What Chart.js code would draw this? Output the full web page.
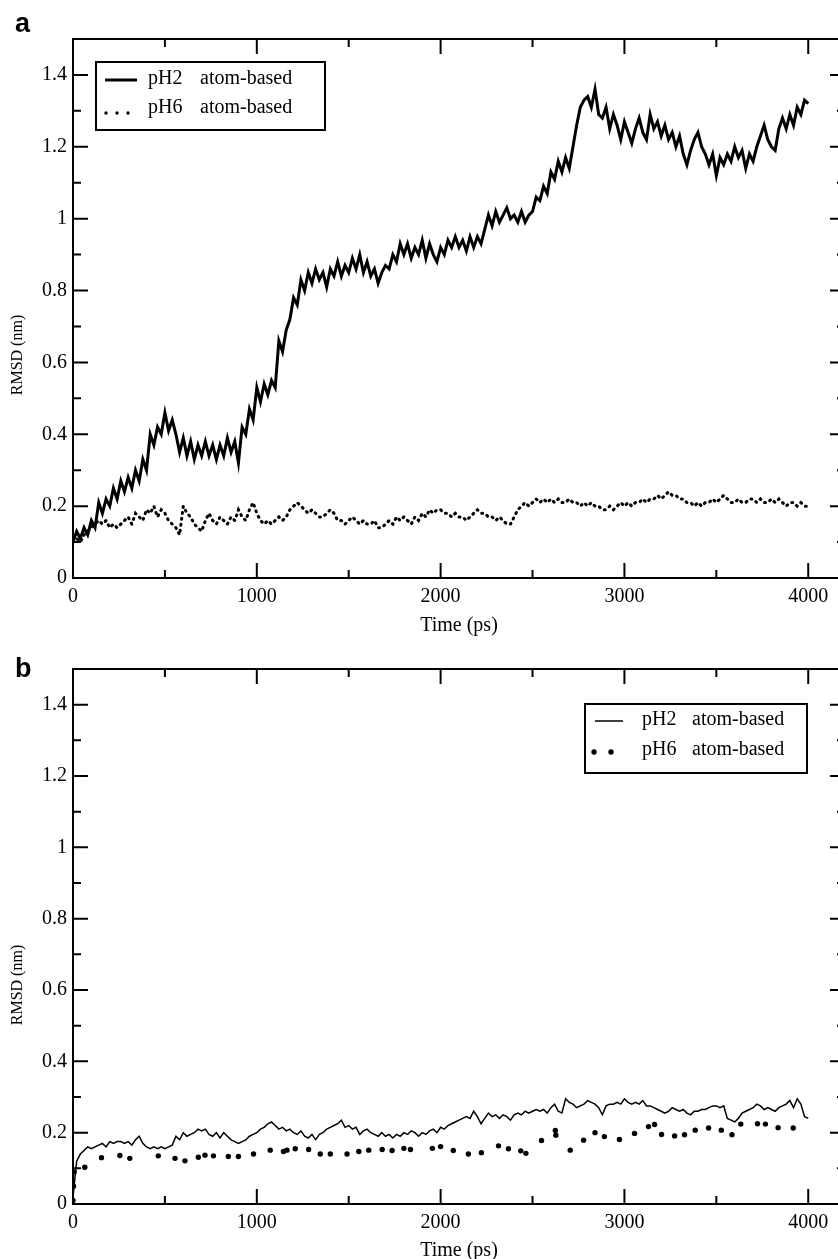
<!DOCTYPE html>
<html>
<head>
<meta charset="utf-8">
<title>RMSD vs time</title>
<script src="https://cdn.jsdelivr.net/npm/chart.js@4.4.0/dist/chart.umd.min.js"></script>
<style>
  html, body { margin: 0; padding: 0; background: #fff; width: 838px; height: 1259px; overflow: hidden; }
  #wrap { position: relative; width: 838px; height: 1259px; overflow: hidden; }
  canvas { position: absolute; left: 0; }
  #chartA { top: 0; width: 850px; height: 640px; }
  #chartB { top: 640px; width: 850px; height: 625px; }
</style>
</head>
<body>
<div id="wrap">
  <canvas id="chartA" width="850" height="640"></canvas>
  <canvas id="chartB" width="850" height="625"></canvas>
</div>
<script>
// series names
const seriesNames = ['pH2', 'pH6'];
const seriesNote = 'atom-based';

// sampling times (ps)
const timePs = [
  0, 20, 40, 60, 80, 100, 120, 140, 160, 180, 200, 220, 240, 260, 280, 300, 320, 340, 360, 380,
  400, 420, 440, 460, 480, 500, 520, 540, 560, 580, 600, 620, 640, 660, 680, 700, 720, 740, 760, 780,
  800, 820, 840, 860, 880, 900, 920, 940, 960, 980, 1000, 1020, 1040, 1060, 1080, 1100, 1120, 1140, 1160, 1180,
  1200, 1220, 1240, 1260, 1280, 1300, 1320, 1340, 1360, 1380, 1400, 1420, 1440, 1460, 1480, 1500, 1520, 1540, 1560, 1580,
  1600, 1620, 1640, 1660, 1680, 1700, 1720, 1740, 1760, 1780, 1800, 1820, 1840, 1860, 1880, 1900, 1920, 1940, 1960, 1980,
  2000, 2020, 2040, 2060, 2080, 2100, 2120, 2140, 2160, 2180, 2200, 2220, 2240, 2260, 2280, 2300, 2320, 2340, 2360, 2380,
  2400, 2420, 2440, 2460, 2480, 2500, 2520, 2540, 2560, 2580, 2600, 2620, 2640, 2660, 2680, 2700, 2720, 2740, 2760, 2780,
  2800, 2820, 2840, 2860, 2880, 2900, 2920, 2940, 2960, 2980, 3000, 3020, 3040, 3060, 3080, 3100, 3120, 3140, 3160, 3180,
  3200, 3220, 3240, 3260, 3280, 3300, 3320, 3340, 3360, 3380, 3400, 3420, 3440, 3460, 3480, 3500, 3520, 3540, 3560, 3580,
  3600, 3620, 3640, 3660, 3680, 3700, 3720, 3740, 3760, 3780, 3800, 3820, 3840, 3860, 3880, 3900, 3920, 3940, 3960, 3980,
  4000
];

// panel a: RMSD (nm)
const pH2A = [
  0.10, 0.13, 0.11, 0.14, 0.12, 0.16, 0.14, 0.21, 0.18, 0.22, 0.20, 0.25, 0.22, 0.27, 0.24, 0.28, 0.25, 0.30, 0.27, 0.33,
  0.30, 0.40, 0.37, 0.42, 0.40, 0.46, 0.41, 0.44, 0.40, 0.35, 0.39, 0.34, 0.38, 0.33, 0.37, 0.34, 0.38, 0.34, 0.37, 0.33,
  0.37, 0.34, 0.39, 0.35, 0.38, 0.32, 0.42, 0.40, 0.47, 0.44, 0.53, 0.49, 0.54, 0.51, 0.55, 0.53, 0.66, 0.63, 0.69, 0.72,
  0.78, 0.76, 0.83, 0.80, 0.85, 0.82, 0.86, 0.83, 0.85, 0.81, 0.86, 0.84, 0.88, 0.84, 0.87, 0.85, 0.89, 0.86, 0.90, 0.85,
  0.88, 0.84, 0.86, 0.82, 0.85, 0.87, 0.86, 0.90, 0.88, 0.93, 0.90, 0.93, 0.89, 0.92, 0.90, 0.94, 0.89, 0.93, 0.90, 0.88,
  0.92, 0.90, 0.94, 0.92, 0.95, 0.92, 0.94, 0.91, 0.95, 0.92, 0.95, 0.93, 0.97, 1.01, 0.98, 1.02, 0.99, 1.01, 1.03, 1.00,
  1.01, 0.99, 1.02, 0.99, 1.01, 1.02, 1.06, 1.05, 1.09, 1.07, 1.13, 1.11, 1.16, 1.13, 1.17, 1.14, 1.20, 1.26, 1.31, 1.33,
  1.34, 1.31, 1.36, 1.29, 1.28, 1.31, 1.25, 1.29, 1.26, 1.22, 1.27, 1.24, 1.21, 1.25, 1.28, 1.24, 1.22, 1.29, 1.25, 1.27,
  1.23, 1.26, 1.22, 1.24, 1.20, 1.23, 1.18, 1.15, 1.19, 1.22, 1.24, 1.20, 1.18, 1.15, 1.18, 1.12, 1.17, 1.15, 1.18, 1.16,
  1.20, 1.17, 1.19, 1.14, 1.18, 1.16, 1.20, 1.23, 1.26, 1.22, 1.20, 1.19, 1.25, 1.28, 1.25, 1.29, 1.26, 1.31, 1.29, 1.33,
  1.32
];
const pH6A = [
  0.10, 0.11, 0.10, 0.12, 0.13, 0.14, 0.15, 0.16, 0.15, 0.16, 0.14, 0.15, 0.14, 0.15, 0.16, 0.17, 0.15, 0.18, 0.17, 0.16,
  0.19, 0.18, 0.20, 0.17, 0.19, 0.18, 0.16, 0.15, 0.14, 0.12, 0.20, 0.18, 0.17, 0.15, 0.14, 0.13, 0.16, 0.18, 0.16, 0.15,
  0.17, 0.16, 0.15, 0.17, 0.16, 0.19, 0.17, 0.16, 0.19, 0.21, 0.18, 0.16, 0.15, 0.16, 0.15, 0.16, 0.17, 0.16, 0.17, 0.19,
  0.20, 0.21, 0.20, 0.19, 0.18, 0.19, 0.18, 0.17, 0.17, 0.18, 0.19, 0.18, 0.16, 0.16, 0.15, 0.16, 0.17, 0.16, 0.15, 0.16,
  0.15, 0.15, 0.16, 0.14, 0.14, 0.15, 0.16, 0.15, 0.17, 0.16, 0.17, 0.16, 0.15, 0.17, 0.16, 0.18, 0.17, 0.19, 0.18, 0.19,
  0.19, 0.18, 0.18, 0.17, 0.18, 0.17, 0.17, 0.16, 0.17, 0.18, 0.19, 0.18, 0.18, 0.17, 0.17, 0.16, 0.17, 0.16, 0.15, 0.15,
  0.17, 0.19, 0.20, 0.21, 0.20, 0.21, 0.22, 0.21, 0.22, 0.21, 0.22, 0.21, 0.22, 0.21, 0.21, 0.22, 0.21, 0.21, 0.20, 0.21,
  0.20, 0.21, 0.20, 0.20, 0.19, 0.19, 0.20, 0.19, 0.20, 0.21, 0.20, 0.21, 0.20, 0.21, 0.21, 0.22, 0.21, 0.22, 0.22, 0.23,
  0.22, 0.23, 0.24, 0.23, 0.23, 0.22, 0.22, 0.21, 0.21, 0.20, 0.21, 0.20, 0.21, 0.21, 0.22, 0.21, 0.22, 0.23, 0.22, 0.21,
  0.21, 0.22, 0.21, 0.21, 0.22, 0.22, 0.21, 0.22, 0.21, 0.21, 0.22, 0.21, 0.22, 0.21, 0.20, 0.21, 0.21, 0.20, 0.21, 0.20,
  0.20
];

// panel b: RMSD (nm)
const pH2B = [
  0.02, 0.12, 0.14, 0.15, 0.16, 0.155, 0.16, 0.165, 0.17, 0.16, 0.175, 0.17, 0.175, 0.175, 0.17, 0.175, 0.165, 0.18, 0.19, 0.17,
  0.16, 0.155, 0.16, 0.155, 0.16, 0.155, 0.16, 0.165, 0.19, 0.18, 0.20, 0.19, 0.195, 0.20, 0.21, 0.205, 0.21, 0.195, 0.19, 0.20,
  0.185, 0.20, 0.19, 0.18, 0.175, 0.17, 0.175, 0.18, 0.19, 0.195, 0.20, 0.21, 0.215, 0.225, 0.23, 0.22, 0.21, 0.215, 0.205, 0.21,
  0.20, 0.195, 0.205, 0.19, 0.185, 0.195, 0.18, 0.195, 0.20, 0.21, 0.215, 0.22, 0.225, 0.235, 0.215, 0.22, 0.21, 0.215, 0.195, 0.205,
  0.21, 0.20, 0.195, 0.19, 0.20, 0.19, 0.195, 0.185, 0.195, 0.19, 0.20, 0.195, 0.205, 0.20, 0.19, 0.20, 0.195, 0.205, 0.21, 0.20,
  0.215, 0.21, 0.22, 0.225, 0.23, 0.235, 0.24, 0.245, 0.24, 0.26, 0.245, 0.225, 0.24, 0.255, 0.245, 0.25, 0.24, 0.25, 0.245, 0.235,
  0.25, 0.255, 0.25, 0.26, 0.255, 0.26, 0.265, 0.26, 0.265, 0.255, 0.27, 0.28, 0.26, 0.255, 0.295, 0.285, 0.28, 0.27, 0.275, 0.28,
  0.29, 0.285, 0.28, 0.27, 0.25, 0.275, 0.28, 0.28, 0.285, 0.28, 0.295, 0.285, 0.28, 0.285, 0.28, 0.29, 0.275, 0.275, 0.27, 0.265,
  0.26, 0.255, 0.26, 0.27, 0.265, 0.26, 0.265, 0.255, 0.25, 0.26, 0.26, 0.265, 0.265, 0.27, 0.275, 0.275, 0.27, 0.275, 0.24, 0.235,
  0.23, 0.24, 0.255, 0.26, 0.265, 0.27, 0.28, 0.275, 0.265, 0.27, 0.265, 0.26, 0.27, 0.275, 0.28, 0.29, 0.27, 0.295, 0.28, 0.245,
  0.24
];
// pH6 in panel b is only sampled sparsely
const dotTimeB = [
  0, 3, 6, 64, 155, 255, 309, 464, 555, 609,
  682, 718, 764, 845, 900, 982, 1073, 1145, 1164, 1209,
  1282, 1345, 1400, 1491, 1555, 1609, 1682, 1736, 1800, 1836,
  1955, 2000,
  2069, 2151, 2222, 2315, 2369, 2436, 2464, 2549, 2624, 2627,
  2705, 2778, 2840, 2891, 2973, 3055, 3131, 3164, 3202, 3273,
  3327, 3385, 3458, 3527, 3585, 3633, 3724, 3767, 3836, 3918
];
const pH6B = [
  0.01, 0.05, 0.09, 0.103, 0.13, 0.136, 0.128, 0.135, 0.128, 0.121,
  0.131, 0.137, 0.135, 0.133, 0.133, 0.14, 0.151, 0.147, 0.151, 0.155,
  0.153, 0.14, 0.14, 0.14, 0.147, 0.151, 0.153, 0.15, 0.156, 0.153,
  0.156, 0.161,
  0.15, 0.14, 0.144, 0.163, 0.155, 0.149, 0.142, 0.178, 0.206, 0.193,
  0.151, 0.179, 0.2, 0.189, 0.181, 0.198, 0.217, 0.223, 0.195, 0.191,
  0.194, 0.207, 0.213, 0.207, 0.194, 0.224, 0.225, 0.224, 0.214, 0.213
];

// axis ticks
const xMajorTicks = [0, 1000, 2000, 3000, 4000];
const xMinorTicks = [500, 1500, 2500, 3500];
const yMajorTicks = [0, 0.2, 0.4, 0.6, 0.8, 1, 1.2, 1.4];
const yMinorTicks = [0.1, 0.3, 0.5, 0.7, 0.9, 1.1, 1.3];

const serif = '"Liberation Serif", "Times New Roman", serif';

function pairs(xs, ys) {
  return ys.map((v, i) => ({ x: xs[i], y: v }));
}

// per panel decoration (legend box, letter)
const panelCfg = {
  chartA: {
    letter: 'a', letterY: 32,
    legend: { x: 96, y: 62, w: 229, h: 68, textX: 148, noteX: 200,
      rows: [
        { y: 79, kind: 'line', x0: 105, x1: 137 },
        { y: 108, kind: 'dots', dots: [106, 117, 128], dotY: 113, r: 1.7 }
      ] }
  },
  chartB: {
    letter: 'b', letterY: 37,
    legend: { x: 585, y: 64, w: 222, h: 69, textX: 642, noteX: 692,
      rows: [
        { y: 80, kind: 'line', x0: 595, x1: 623 },
        { y: 110, kind: 'dots', dots: [594, 611], dotY: 112, r: 2.7 }
      ] }
  }
};

const framePlugin = {
  id: 'frame',
  afterDraw(chart) {
    const cfg = panelCfg[chart.canvas.id];
    const { ctx, chartArea: area } = chart;
    const xs = chart.scales.x, ys = chart.scales.y;
    ctx.save();
    ctx.strokeStyle = '#000';
    ctx.fillStyle = '#000';
    ctx.lineWidth = 2;
    ctx.strokeRect(area.left, area.top, area.right - area.left, area.bottom - area.top);

    // ticks point inward on all four sides
    ctx.beginPath();
    const tickX = (v, len) => {
      const p = xs.getPixelForValue(v);
      ctx.moveTo(p, area.bottom); ctx.lineTo(p, area.bottom - len);
      ctx.moveTo(p, area.top); ctx.lineTo(p, area.top + len);
    };
    const tickY = (v, len) => {
      const p = ys.getPixelForValue(v);
      ctx.moveTo(area.left, p); ctx.lineTo(area.left + len, p);
      ctx.moveTo(area.right, p); ctx.lineTo(area.right - len, p);
    };
    xMajorTicks.forEach(v => tickX(v, 15));
    xMinorTicks.forEach(v => tickX(v, 8));
    yMajorTicks.forEach(v => tickY(v, 15));
    yMinorTicks.forEach(v => tickY(v, 8));
    ctx.stroke();

    // y title
    ctx.save();
    ctx.font = '16px ' + serif;
    ctx.textAlign = 'center';
    ctx.textBaseline = 'middle';
    ctx.translate(18, area.top + 316);
    ctx.rotate(-Math.PI / 2);
    ctx.fillText('RMSD (nm)', 0, 0);
    ctx.restore();

    // panel letter
    ctx.font = 'bold 27px "Liberation Sans", Arial, sans-serif';
    ctx.textAlign = 'left';
    ctx.textBaseline = 'alphabetic';
    ctx.fillText(cfg.letter, 15, cfg.letterY);

    // legend
    const lg = cfg.legend;
    ctx.lineWidth = 2;
    ctx.strokeRect(lg.x, lg.y, lg.w, lg.h);
    ctx.font = '20px ' + serif;
    ctx.textBaseline = 'middle';
    lg.rows.forEach((row, i) => {
      const ds = chart.data.datasets[i];
      if (row.kind === 'line') {
        ctx.lineWidth = ds.borderWidth;
        ctx.beginPath();
        ctx.moveTo(row.x0, row.y + 1);
        ctx.lineTo(row.x1, row.y + 1);
        ctx.stroke();
      } else {
        row.dots.forEach(dx => {
          ctx.beginPath();
          ctx.arc(dx, row.dotY, row.r, 0, Math.PI * 2);
          ctx.fill();
        });
      }
      ctx.fillText(seriesNames[i], lg.textX, row.y);
      ctx.fillText(seriesNote, lg.noteX, row.y);
    });
    ctx.restore();
  }
};

function makeChart(id, datasets, padTop, xAxisHeight) {
  return new Chart(document.getElementById(id), {
    type: 'scatter',
    data: { datasets },
    options: {
      responsive: false,
      animation: false,
      devicePixelRatio: 1,
      layout: { padding: { top: padTop, right: 5, left: 0, bottom: 0 } },
      plugins: { legend: { display: false }, tooltip: { enabled: false } },
      scales: {
        x: {
          type: 'linear',
          min: 0,
          max: 4200,
          grid: { display: false, drawTicks: false },
          border: { display: false },
          afterBuildTicks: s => { s.ticks = xMajorTicks.map(v => ({ value: v })); },
          afterFit: s => { s.height = xAxisHeight; },
          ticks: { color: '#000', font: { family: serif, size: 20 }, padding: 7, maxRotation: 0, autoSkip: false,
            callback: v => String(v) },
          title: { display: true, text: 'Time (ps)', color: '#000', font: { family: serif, size: 20 },
            padding: { top: 0, bottom: 2 } }
        },
        y: {
          type: 'linear',
          min: 0,
          max: 1.5,
          grid: { display: false, drawTicks: false },
          border: { display: false },
          afterBuildTicks: s => { s.ticks = yMajorTicks.map(v => ({ value: v })); },
          afterFit: s => { s.width = 73; },
          ticks: { color: '#000', font: { family: serif, size: 20 }, padding: 6, autoSkip: false,
            callback: v => String(v) }
        }
      }
    },
    plugins: [framePlugin]
  });
}

makeChart('chartA', [
  { label: seriesNames[0] + '  ' + seriesNote, data: pairs(timePs, pH2A), showLine: true,
    borderColor: '#000', borderWidth: 3, pointRadius: 0, tension: 0 },
  { label: seriesNames[1] + '  ' + seriesNote, data: pairs(timePs, pH6A), showLine: true,
    borderColor: '#000', borderWidth: 3, borderDash: [1, 5], borderCapStyle: 'round', pointRadius: 0, tension: 0 }
], 39, 62);

makeChart('chartB', [
  { label: seriesNames[0] + '  ' + seriesNote, data: pairs(timePs, pH2B), showLine: true,
    borderColor: '#000', borderWidth: 1.5, pointRadius: 0, tension: 0 },
  { label: seriesNames[1] + '  ' + seriesNote, data: pairs(dotTimeB, pH6B), showLine: false,
    pointRadius: 2.7, pointBackgroundColor: '#000', pointBorderWidth: 0 }
], 29, 61);
</script>
</body>
</html>
